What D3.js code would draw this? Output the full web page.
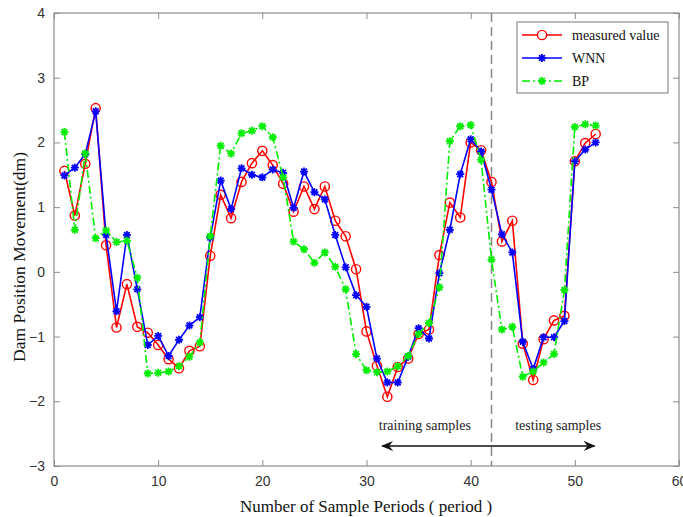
<!DOCTYPE html>
<html>
<head>
<meta charset="utf-8">
<script src="https://cdn.jsdelivr.net/npm/d3@7"></script>
<style>
  body { margin: 0; background: #fff; }
  svg { display: block; }
</style>
</head>
<body>
<div id="chart"></div>
<script>
// sample periods 1..52
const periods = [1,2,3,4,5,6,7,8,9,10,11,12,13,14,15,16,17,18,19,20,21,22,23,24,25,26,
  27,28,29,30,31,32,33,34,35,36,37,38,39,40,41,42,43,44,45,46,47,48,49,50,51,52];

const measured = [1.56,0.87,1.67,2.53,0.41,-0.86,-0.19,-0.85,-0.94,-1.13,-1.35,-1.49,-1.22,-1.15,
  0.25,1.19,0.83,1.39,1.68,1.87,1.65,1.36,0.93,1.32,0.97,1.32,0.79,0.55,0.04,-0.92,-1.45,-1.93,
  -1.47,-1.34,-0.96,-0.89,0.26,1.07,0.84,2.00,1.88,1.39,0.47,0.79,-1.11,-1.67,-1.04,-0.75,-0.68,
  1.71,1.99,2.13];

const wnn = [1.49,1.61,1.82,2.48,0.57,-0.61,0.57,-0.27,-1.13,-0.99,-1.30,-1.05,-0.83,-0.70,
  0.53,1.41,0.97,1.60,1.50,1.46,1.58,1.53,0.99,1.55,1.23,1.12,0.57,0.07,-0.36,-0.54,-1.34,-1.71,
  -1.71,-1.31,-0.87,-1.03,-0.02,0.65,1.51,2.05,1.86,1.27,0.58,0.30,-1.08,-1.50,-1.01,-1.01,-0.76,
  1.71,1.89,2.00];

const bp = [2.16,0.65,1.83,0.52,0.64,0.46,0.48,-0.09,-1.57,-1.56,-1.54,-1.46,-1.31,-1.09,
  0.55,1.95,1.83,2.14,2.18,2.25,2.08,1.46,0.47,0.35,0.14,0.30,0.08,-0.27,-1.27,-1.52,-1.55,-1.54,
  -1.46,-1.30,-0.96,-0.79,-0.24,2.02,2.25,2.27,1.73,0.19,-0.89,-0.85,-1.62,-1.54,-1.40,-1.27,-0.28,
  2.24,2.28,2.26];

const xTicks = [0,10,20,30,40,50,60];
const yTicks = [-3,-2,-1,0,1,2,3,4];
const splitPeriod = 42;

const seriesNames = ["measured value", "WNN", "BP"];

const width = 683, height = 517;
const margin = {top: 13, right: 4, bottom: 51, left: 54};

const svg = d3.select("#chart").append("svg")
    .attr("width", width)
    .attr("height", height);

const x = d3.scaleLinear().domain([0, 60]).range([margin.left, width - margin.right]);
const y = d3.scaleLinear().domain([-3, 4]).range([height - margin.bottom, margin.top]);

const frameColor = "#8c8c8c";
const tickFont = "14px 'Liberation Sans', Arial, sans-serif";
const serif = "'Liberation Serif', 'Times New Roman', serif";

// axes, MATLAB style: ticks pointing inwards on all four sides
svg.append("g")
    .attr("transform", `translate(0,${y(-3)})`)
    .call(d3.axisBottom(x).tickValues(xTicks).tickSize(-6).tickPadding(10).tickFormat(d3.format("d")))
    .call(g => g.select(".domain").remove());
svg.append("g")
    .attr("transform", `translate(0,${y(4)})`)
    .call(d3.axisTop(x).tickValues(xTicks).tickSize(-6).tickFormat(""))
    .call(g => g.select(".domain").remove());
svg.append("g")
    .attr("transform", `translate(${x(0)},0)`)
    .call(d3.axisLeft(y).tickValues(yTicks).tickSize(-6).tickPadding(9).tickFormat(d3.format("d")))
    .call(g => g.select(".domain").remove());
svg.append("g")
    .attr("transform", `translate(${x(60)},0)`)
    .call(d3.axisRight(y).tickValues(yTicks).tickSize(-6).tickFormat(""))
    .call(g => g.select(".domain").remove());

svg.selectAll(".tick line").attr("stroke", frameColor);
svg.selectAll(".tick text")
    .style("font", tickFont)
    .attr("fill", "#333");

svg.append("rect")
    .attr("x", x(0)).attr("y", y(4))
    .attr("width", x(60) - x(0)).attr("height", y(-3) - y(4))
    .attr("fill", "none")
    .attr("stroke", frameColor)
    .attr("stroke-width", 1.2);

// training / testing split
svg.append("line")
    .attr("x1", x(splitPeriod)).attr("x2", x(splitPeriod))
    .attr("y1", y(4)).attr("y2", y(-3))
    .attr("stroke", "#888")
    .attr("stroke-width", 1.5)
    .attr("stroke-dasharray", "9,5");

// asterisk marker (MATLAB '*')
function starPath(r) {
  const d = r * 0.72;
  return `M${-r},0H${r}M0,${-r}V${r}M${-d},${-d}L${d},${d}M${-d},${d}L${d},${-d}`;
}

const line = d3.line()
    .x((d, i) => x(periods[i]))
    .y(d => y(d));

function drawSeries(values, color, dash, marker) {
  const g = svg.append("g");
  g.append("path")
      .datum(values)
      .attr("fill", "none")
      .attr("stroke", color)
      .attr("stroke-width", 1.6)
      .attr("stroke-dasharray", dash)
      .attr("d", line);
  if (marker === "circle") {
    g.selectAll("circle").data(values).join("circle")
        .attr("cx", (d, i) => x(periods[i]))
        .attr("cy", d => y(d))
        .attr("r", 4.6)
        .attr("fill", "none")
        .attr("stroke", color)
        .attr("stroke-width", 1.4);
  } else {
    g.selectAll("path.m").data(values).join("path")
        .attr("class", "m")
        .attr("transform", (d, i) => `translate(${x(periods[i])},${y(d)})`)
        .attr("d", starPath(4))
        .attr("stroke", color)
        .attr("stroke-width", 1.8);
  }
}

const styles = [
  {color: "#ff0000", dash: null, marker: "circle"},
  {color: "#0000ff", dash: null, marker: "star"},
  {color: "#00ee00", dash: "8,3,2,3", marker: "star"}
];

drawSeries(measured, styles[0].color, styles[0].dash, styles[0].marker);
drawSeries(wnn, styles[1].color, styles[1].dash, styles[1].marker);
drawSeries(bp, styles[2].color, styles[2].dash, styles[2].marker);

// double arrow annotation
const defs = svg.append("defs");
defs.append("marker")
    .attr("id", "arrowHead")
    .attr("viewBox", "0 0 12 10")
    .attr("refX", 11).attr("refY", 5)
    .attr("markerWidth", 12).attr("markerHeight", 10)
    .attr("markerUnits", "userSpaceOnUse")
    .attr("orient", "auto-start-reverse")
  .append("path")
    .attr("d", "M0,0L12,5L0,10L4,5Z")
    .attr("fill", "#111");

svg.append("line")
    .attr("x1", x(31.5)).attr("x2", x(51.9))
    .attr("y1", y(-2.69)).attr("y2", y(-2.69))
    .attr("stroke", "#111")
    .attr("stroke-width", 1.6)
    .attr("marker-start", "url(#arrowHead)")
    .attr("marker-end", "url(#arrowHead)");

svg.append("text")
    .attr("x", x(35.6)).attr("y", y(-2.45))
    .attr("text-anchor", "middle")
    .style("font", `14px ${serif}`)
    .attr("fill", "#222")
    .text("training samples");
svg.append("text")
    .attr("x", x(48.4)).attr("y", y(-2.45))
    .attr("text-anchor", "middle")
    .style("font", `14px ${serif}`)
    .attr("fill", "#222")
    .text("testing samples");

// axis titles
svg.append("text")
    .attr("x", 366).attr("y", 512)
    .attr("text-anchor", "middle")
    .style("font", `17px ${serif}`)
    .attr("fill", "#111")
    .text("Number of Sample Periods ( period )");
svg.append("text")
    .attr("transform", "translate(25,257) rotate(-90)")
    .attr("text-anchor", "middle")
    .style("font", `17.5px ${serif}`)
    .attr("fill", "#111")
    .text("Dam Position Movement(dm)");

// legend
const legend = svg.append("g").attr("transform", "translate(517,22)");
legend.append("rect")
    .attr("width", 151).attr("height", 71)
    .attr("fill", "#fff")
    .attr("stroke", "#777")
    .attr("stroke-width", 1);

const rows = legend.selectAll("g.row").data(seriesNames).join("g")
    .attr("class", "row")
    .attr("transform", (d, i) => `translate(0,${13 + i * 23})`);

rows.append("line")
    .attr("x1", 5).attr("x2", 45)
    .attr("stroke", (d, i) => styles[i].color)
    .attr("stroke-width", 1.6)
    .attr("stroke-dasharray", (d, i) => styles[i].dash);
rows.each(function(d, i) {
  const r = d3.select(this);
  if (styles[i].marker === "circle") {
    r.append("circle").attr("cx", 25).attr("r", 4.6)
        .attr("fill", "#fff").attr("stroke", styles[i].color).attr("stroke-width", 1.4);
  } else {
    r.append("path").attr("transform", "translate(25,0)")
        .attr("d", starPath(4))
        .attr("stroke", styles[i].color).attr("stroke-width", 1.8);
  }
});
rows.append("text")
    .attr("x", 55).attr("dy", "0.35em")
    .style("font", `14px ${serif}`)
    .attr("fill", "#111")
    .text(d => d);
</script>
</body>
</html>
